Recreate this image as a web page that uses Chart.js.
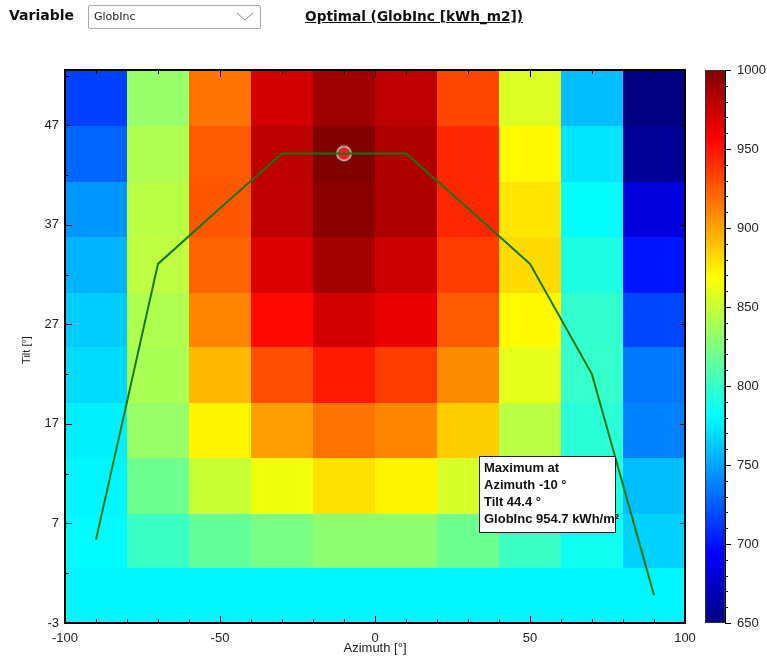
<!DOCTYPE html>
<html>
<head>
<meta charset="utf-8">
<title>Optimal orientation</title>
<script src="https://cdn.jsdelivr.net/npm/chart.js@4.4.1/dist/chart.umd.min.js"></script>
<style>
  html, body { margin: 0; padding: 0; background: #fff; }
  #wrap { position: relative; width: 767px; height: 659px; overflow: hidden; }
  #chart { position: absolute; left: 0; top: 0; }
  .lbl { position: absolute; font-family: "DejaVu Sans", sans-serif; font-weight: bold; color: #111; }
  #varLabel { left: 9px; top: 7px; font-size: 14px; }
  #title { left: 305px; top: 8px; font-size: 13.7px; text-decoration: underline; }
  #combo { position: absolute; left: 88px; top: 5px; width: 171px; height: 22px; border: 1px solid #a9a9a9; border-radius: 2px; background: #fff; }
  #combo span { position: absolute; left: 5px; top: 4px; font-family: "DejaVu Sans", sans-serif; font-size: 11px; color: #222; }
  #combo svg { position: absolute; right: 6px; top: 6px; }
</style>
</head>
<body>
<div id="wrap">
  <canvas id="chart" width="767" height="659"></canvas>
  <div class="lbl" id="varLabel">Variable</div>
  <div id="combo"><span>GlobInc</span>
    <svg width="18" height="10" viewBox="0 0 18 10"><polyline points="1,1 9,8 17,1" fill="none" stroke="#8a8a8a" stroke-width="1"/></svg>
  </div>
  <div class="lbl" id="title">Optimal (GlobInc [kWh_m2])</div>
</div>
<script>
// Plane orientation grid
const azimuths = [-90, -70, -50, -30, -10, 10, 30, 50, 70, 90];
const tilts = [0, 5.6, 11.1, 16.7, 22.2, 27.8, 33.3, 38.9, 44.4, 50.0];

// GlobInc [kWh/m2], one row per tilt (bottom to top), one column per azimuth
const globInc = [
  [764.4, 764.4, 764.4, 764.4, 764.4, 764.4, 764.4, 764.4, 764.4, 764.4],
  [765.9, 785.1, 796.8, 802.8, 808.4, 808.4, 799.8, 785.1, 771.9, 754.2],
  [764.4, 799.8, 826.1, 837.8, 851.0, 845.3, 830.6, 805.4, 776.1, 748.2],
  [762.9, 811.4, 845.3, 870.2, 883.4, 877.7, 857.0, 821.6, 779.1, 730.5],
  [757.2, 817.4, 863.0, 893.9, 909.7, 899.6, 876.2, 834.8, 783.0, 727.8],
  [752.7, 818.9, 877.7, 914.2, 930.4, 923.2, 890.9, 843.8, 782.1, 713.1],
  [745.2, 823.1, 887.9, 927.4, 943.6, 931.9, 899.6, 852.5, 776.1, 698.5],
  [736.5, 821.6, 891.5, 936.4, 951.7, 940.6, 906.0, 849.5, 768.3, 682.3],
  [721.8, 818.9, 890.9, 937.0, 954.7, 941.0, 905.5, 843.8, 759.9, 661.6],
  [711.3, 811.4, 883.4, 930.4, 945.1, 936.4, 896.6, 832.1, 748.2, 655.0]
];

// Best tilt for each azimuth
const optimalTilt = [5.6, 33.3, 38.9, 44.4, 44.4, 44.4, 38.9, 33.3, 22.2, 0];

const xTicks = [-100, -50, 0, 50, 100];
const colorTicks = [650, 700, 750, 800, 850, 900, 950, 1000];

const cellW = azimuths[1] - azimuths[0];
const cellH = (tilts[tilts.length - 1] - tilts[0]) / (tilts.length - 1);
const yMin = tilts[0] - cellH / 2;
const yMax = tilts[tilts.length - 1] + cellH / 2;

const flat = globInc.flat();
const vMin = Math.min(...flat);
const vMax = Math.max(...flat);

// location of the maximum
let maxRow = 0, maxCol = 0;
globInc.forEach((row, i) => row.forEach((v, j) => {
  if (v > globInc[maxRow][maxCol]) { maxRow = i; maxCol = j; }
}));

function clamp01(v) { return Math.max(0, Math.min(1, v)); }

function jet(t) {
  t = clamp01(t);
  const r = clamp01(1.5 - Math.abs(4 * t - 3));
  const g = clamp01(1.5 - Math.abs(4 * t - 2));
  const b = clamp01(1.5 - Math.abs(4 * t - 1));
  return `rgb(${Math.round(r * 255)},${Math.round(g * 255)},${Math.round(b * 255)})`;
}

const FONT = 'Liberation Sans, Arial, sans-serif';

// keep the plot box fixed, label padding must not shrink it
function fixSize(prop, size) {
  return s => {
    s[prop] = size;
    s.paddingTop = s.paddingBottom = s.paddingLeft = s.paddingRight = 0;
  };
}

// Heatmap cells, frame, inward ticks, colorbar and the info box
const heatmapPlugin = {
  id: 'heatmap',
  beforeDatasetsDraw(chart) {
    const { ctx, chartArea: a } = chart;
    const xs = chart.scales.x, ys = chart.scales.y;
    ctx.save();
    ctx.beginPath();
    ctx.rect(a.left, a.top, a.right - a.left, a.bottom - a.top);
    ctx.clip();
    globInc.forEach((row, i) => {
      row.forEach((v, j) => {
        const x0 = Math.round(xs.getPixelForValue(azimuths[j] - cellW / 2));
        const x1 = Math.round(xs.getPixelForValue(azimuths[j] + cellW / 2));
        const y0 = Math.round(ys.getPixelForValue(tilts[i] + cellH / 2));
        const y1 = Math.round(ys.getPixelForValue(tilts[i] - cellH / 2));
        ctx.fillStyle = jet((v - vMin) / (vMax - vMin));
        ctx.fillRect(x0, y0, x1 - x0 + 1, y1 - y0 + 1);
      });
    });
    ctx.restore();
  },
  afterDatasetsDraw(chart) {
    const { ctx, chartArea: a } = chart;
    const xs = chart.scales.x, ys = chart.scales.y, cb = chart.scales.cb;
    ctx.save();

    // frame
    ctx.strokeStyle = '#000';
    ctx.lineWidth = 2;
    ctx.strokeRect(a.left, a.top, a.right - a.left, a.bottom - a.top);

    // inward ticks
    ctx.lineWidth = 1;
    ctx.beginPath();
    for (let v = -100; v <= 100; v += 10) {
      const px = Math.round(xs.getPixelForValue(v)) + 0.5;
      const len = v % 50 === 0 ? 7 : 4;
      ctx.moveTo(px, a.bottom); ctx.lineTo(px, a.bottom - len);
    }
    azimuths.concat([0]).forEach(v => {
      const px = Math.round(xs.getPixelForValue(v)) + 0.5;
      const len = v % 50 === 0 ? 7 : 4;
      ctx.moveTo(px, a.top); ctx.lineTo(px, a.top + len);
    });
    for (let v = yMin; v < yMax; v += 5) {
      const py = Math.round(ys.getPixelForValue(v)) + 0.5;
      const major = Math.abs(((v - yMin) % 10)) < 0.01;
      ctx.moveTo(a.left, py); ctx.lineTo(a.left + (major ? 7 : 4), py);
      if (major) { ctx.moveTo(a.right, py); ctx.lineTo(a.right - 5, py); }
    }
    ctx.stroke();

    // colorbar
    const bx = a.right + 20, bw = 20;
    const grad = ctx.createLinearGradient(0, cb.bottom, 0, cb.top);
    for (let k = 0; k <= 40; k++) grad.addColorStop(k / 40, jet(k / 40));
    ctx.fillStyle = grad;
    ctx.fillRect(bx, cb.top, bw, cb.bottom - cb.top);
    ctx.strokeStyle = '#333';
    ctx.strokeRect(bx + 0.5, cb.top + 0.5, bw - 1, cb.bottom - cb.top - 1);
    ctx.strokeStyle = '#000';
    ctx.beginPath();
    ctx.moveTo(bx + bw + 0.5, cb.top); ctx.lineTo(bx + bw + 0.5, cb.bottom);
    for (let v = 650; v <= 1000; v += 10) {
      const py = Math.round(cb.getPixelForValue(v)) + 0.5;
      ctx.moveTo(bx + bw, py); ctx.lineTo(bx + bw + (v % 50 === 0 ? 6 : 3), py);
    }
    ctx.stroke();

    // axis titles
    ctx.fillStyle = '#222';
    ctx.font = '13px ' + FONT;
    ctx.textAlign = 'center';
    ctx.textBaseline = 'middle';
    ctx.fillText('Azimuth [°]', xs.getPixelForValue(0), 648);
    ctx.save();
    ctx.translate(27, 350);
    ctx.rotate(-Math.PI / 2);
    ctx.font = '11px ' + FONT;
    ctx.fillText('Tilt [°]', 0, 0);
    ctx.restore();

    // info box
    const lines = [
      'Maximum at',
      `Azimuth ${azimuths[maxCol]} °`,
      `Tilt ${tilts[maxRow].toFixed(1)} °`,
      `GlobInc ${globInc[maxRow][maxCol].toFixed(1)} kWh/m²`
    ];
    const boxX = a.right - 206, boxY = a.bottom - 167;
    ctx.fillStyle = '#fff';
    ctx.fillRect(boxX, boxY, 136, 76);
    ctx.strokeStyle = '#222';
    ctx.lineWidth = 1;
    ctx.strokeRect(boxX + 0.5, boxY + 0.5, 136, 76);
    ctx.fillStyle = '#111';
    ctx.font = 'bold 13px ' + FONT;
    ctx.textAlign = 'left';
    lines.forEach((t, k) => ctx.fillText(t, boxX + 5, boxY + 12 + k * 17));

    ctx.restore();
  }
};

new Chart(document.getElementById('chart'), {
  type: 'scatter',
  data: {
    datasets: [
      {
        data: azimuths.map((az, j) => ({ x: az, y: optimalTilt[j] })),
        showLine: true,
        borderColor: 'rgb(22,118,14)',
        borderWidth: 2,
        pointRadius: 0,
        tension: 0
      },
      {
        data: [{ x: azimuths[maxCol], y: tilts[maxRow] }],
        pointRadius: 7,
        backgroundColor: '#ff1a1a',
        borderColor: '#a6a6a6',
        borderWidth: 2
      }
    ]
  },
  options: {
    responsive: false,
    animation: false,
    layout: { autoPadding: false, padding: { top: 70, left: 0, right: 0, bottom: 0 } },
    plugins: {
      legend: { display: false },
      tooltip: { enabled: false }
    },
    scales: {
      x: {
        type: 'linear',
        min: -100,
        max: 100,
        afterBuildTicks: s => { s.ticks = xTicks.map(v => ({ value: v })); },
        afterFit: fixSize('height', 36),
        grid: { display: false, drawTicks: false },
        border: { display: false },
        ticks: { color: '#222', padding: 8, maxRotation: 0, font: { family: FONT, size: 13 } }
      },
      y: {
        type: 'linear',
        min: yMin,
        max: yMax,
        afterBuildTicks: s => {
          const t = [];
          for (let v = yMin; v < yMax; v += 10) t.push({ value: v });
          s.ticks = t;
        },
        afterFit: fixSize('width', 65),
        grid: { display: false, drawTicks: false },
        border: { display: false },
        ticks: {
          color: '#222', padding: 6, font: { family: FONT, size: 13 },
          callback: v => String(Math.round(v))
        }
      },
      cb: {
        type: 'linear',
        position: 'right',
        min: colorTicks[0],
        max: colorTicks[colorTicks.length - 1],
        afterBuildTicks: s => { s.ticks = colorTicks.map(v => ({ value: v })); },
        afterFit: fixSize('width', 82),
        grid: { display: false, drawTicks: false },
        border: { display: false },
        ticks: { color: '#222', padding: 52, font: { family: FONT, size: 13 }, callback: v => String(v) }
      }
    }
  },
  plugins: [heatmapPlugin]
});
</script>
</body>
</html>
